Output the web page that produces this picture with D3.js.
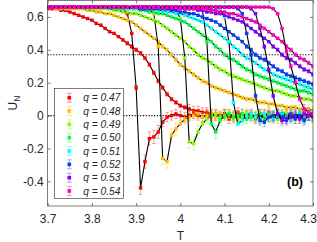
<!DOCTYPE html>
<html lang="en">
<head>
<meta charset="UTF-8">
<title>U_N vs T</title>
<script src="https://cdn.jsdelivr.net/npm/d3@7"></script>
<style>
  body { margin: 0; background: #fff; }
  svg { display: block; font-family: "Liberation Sans", Arial, sans-serif; }
</style>
</head>
<body>
<svg id="chart" width="317" height="242"></svg>
<script>
// temperature grid
const temps = [3.70,3.71,3.72,3.73,3.74,3.75,3.76,3.77,3.78,3.79,
  3.80,3.81,3.82,3.83,3.84,3.85,3.86,3.87,3.88,3.89,
  3.90,3.91,3.92,3.93,3.94,3.95,3.96,3.97,3.98,3.99,
  4.00,4.01,4.02,4.03,4.04,4.05,4.06,4.07,4.08,4.09,
  4.10,4.11,4.12,4.13,4.14,4.15,4.16,4.17,4.18,4.19,
  4.20,4.21,4.22,4.23,4.24,4.25,4.26,4.27,4.28,4.29,
  4.30];

const qLabels = ["0.47","0.48","0.49","0.50","0.51","0.52","0.53","0.54"];
const colors = ["#ff0000","#ffbf00","#80ff00","#00ff40","#00ffff","#0040ff","#8000ff","#ff00bf"];

// broad curves (smaller system)
const small47 = [0.65,0.65,0.65,0.64,0.64,0.63,0.62,0.61,0.60,0.59,
  0.58,0.56,0.55,0.53,0.51,0.50,0.48,0.46,0.44,0.42,
  0.40,0.38,0.35,0.31,0.26,0.21,0.17,0.13,0.10,0.08,
  0.06,0.05,0.04,0.03,0.03,0.02,0.02,0.01,0.01,0.00,
  0.01,0.00,-0.01,0.00,0.01,0.00,0.00,-0.01,0.00,0.01,
  0.00,-0.01,0.00,0.00,0.01,-0.01,0.00,0.00,-0.01,0.00,
  0.00];
const small48 = [0.66,0.66,0.65,0.65,0.65,0.65,0.65,0.65,0.65,0.64,
  0.64,0.63,0.63,0.62,0.62,0.61,0.60,0.59,0.58,0.57,
  0.55,0.53,0.51,0.49,0.47,0.45,0.42,0.40,0.37,0.34,
  0.31,0.29,0.27,0.25,0.23,0.21,0.20,0.18,0.17,0.16,
  0.15,0.14,0.13,0.12,0.11,0.10,0.10,0.09,0.08,0.08,
  0.07,0.07,0.06,0.06,0.05,0.05,0.05,0.04,0.04,0.04,
  0.03];
const small49 = [0.66,0.66,0.66,0.66,0.66,0.66,0.66,0.66,0.65,0.65,
  0.65,0.65,0.65,0.65,0.65,0.64,0.64,0.63,0.63,0.62,
  0.62,0.61,0.60,0.59,0.58,0.57,0.55,0.53,0.51,0.49,
  0.47,0.45,0.42,0.40,0.37,0.35,0.34,0.32,0.30,0.28,
  0.27,0.25,0.24,0.23,0.22,0.21,0.20,0.19,0.18,0.17,
  0.16,0.15,0.15,0.14,0.13,0.12,0.12,0.11,0.10,0.10,
  0.09];
const small50 = [0.66,0.66,0.66,0.66,0.66,0.66,0.66,0.66,0.66,0.66,
  0.66,0.66,0.66,0.66,0.65,0.65,0.65,0.65,0.65,0.65,
  0.65,0.64,0.64,0.63,0.63,0.62,0.62,0.61,0.60,0.59,
  0.58,0.57,0.55,0.53,0.51,0.49,0.47,0.45,0.42,0.40,
  0.37,0.35,0.34,0.32,0.30,0.28,0.27,0.25,0.24,0.23,
  0.22,0.21,0.20,0.19,0.18,0.17,0.16,0.15,0.15,0.14,
  0.13];
const small51 = [0.66,0.66,0.66,0.66,0.66,0.66,0.66,0.66,0.66,0.66,
  0.66,0.66,0.66,0.66,0.66,0.66,0.66,0.66,0.65,0.65,
  0.65,0.65,0.65,0.65,0.65,0.64,0.64,0.63,0.63,0.62,
  0.62,0.61,0.60,0.59,0.58,0.57,0.55,0.53,0.51,0.49,
  0.47,0.45,0.42,0.40,0.37,0.35,0.34,0.32,0.30,0.28,
  0.27,0.25,0.24,0.23,0.22,0.21,0.20,0.19,0.18,0.17,
  0.16];
const small52 = [0.66,0.66,0.66,0.66,0.66,0.66,0.66,0.66,0.66,0.66,
  0.66,0.66,0.66,0.66,0.66,0.66,0.66,0.66,0.66,0.66,
  0.66,0.65,0.65,0.65,0.65,0.65,0.65,0.65,0.64,0.64,
  0.63,0.63,0.62,0.62,0.61,0.60,0.59,0.58,0.57,0.55,
  0.53,0.51,0.49,0.47,0.45,0.42,0.40,0.37,0.35,0.34,
  0.32,0.30,0.28,0.27,0.25,0.24,0.23,0.22,0.21,0.20,
  0.19];
const small53 = [0.66,0.66,0.66,0.66,0.66,0.66,0.66,0.66,0.66,0.66,
  0.66,0.66,0.66,0.66,0.66,0.66,0.66,0.66,0.66,0.66,
  0.66,0.66,0.66,0.66,0.66,0.66,0.66,0.65,0.65,0.65,
  0.65,0.65,0.65,0.65,0.64,0.64,0.63,0.63,0.62,0.62,
  0.61,0.60,0.59,0.58,0.57,0.55,0.53,0.51,0.49,0.47,
  0.45,0.42,0.40,0.37,0.35,0.34,0.32,0.30,0.28,0.27,
  0.25];
const small54 = [0.66,0.66,0.66,0.66,0.66,0.66,0.66,0.66,0.66,0.66,
  0.66,0.66,0.66,0.66,0.66,0.66,0.66,0.66,0.66,0.66,
  0.66,0.66,0.66,0.66,0.66,0.66,0.66,0.66,0.66,0.66,
  0.65,0.65,0.65,0.65,0.65,0.65,0.65,0.64,0.64,0.63,
  0.63,0.62,0.62,0.61,0.60,0.59,0.58,0.57,0.55,0.53,
  0.51,0.49,0.47,0.45,0.42,0.40,0.37,0.35,0.34,0.32,
  0.30];

// sharp curves (larger system)
const large47 = [0.66,0.66,0.66,0.66,0.66,0.66,0.66,0.66,0.66,0.66,
  0.66,0.66,0.66,0.66,0.66,0.66,0.66,0.65,0.62,0.50,
  0.17,-0.44,-0.28,-0.14,-0.13,-0.10,-0.04,-0.01,0.00,0.01,
  0.00,-0.01,0.00,0.01,0.00,-0.01,0.01,0.00,0.00,-0.01,
  0.01,-0.02,0.00,0.02,-0.01,0.00,0.01,-0.02,0.01,0.00,
  0.02,-0.01,0.00,-0.02,0.01,0.00,0.01,-0.01,0.02,0.00,
  -0.01];
const large48 = [0.66,0.66,0.66,0.66,0.66,0.66,0.66,0.66,0.66,0.66,
  0.66,0.66,0.66,0.66,0.66,0.66,0.66,0.66,0.66,0.66,
  0.66,0.66,0.66,0.65,0.62,0.42,-0.26,-0.28,-0.12,-0.08,
  -0.05,-0.02,-0.01,0.00,0.01,-0.01,0.00,0.01,0.00,-0.01,
  0.00,0.01,-0.02,0.00,-0.01,0.02,0.00,-0.01,-0.02,0.00,
  0.01,0.00,-0.02,0.00,0.02,0.00,-0.01,-0.02,0.01,0.00,
  0.00];
const large49 = [0.66,0.66,0.66,0.66,0.66,0.66,0.66,0.66,0.66,0.66,
  0.66,0.66,0.66,0.66,0.66,0.66,0.66,0.66,0.66,0.66,
  0.66,0.66,0.66,0.66,0.66,0.66,0.66,0.66,0.66,0.64,
  0.59,0.35,-0.16,-0.17,-0.10,-0.05,-0.02,0.00,0.01,-0.01,
  0.00,0.01,0.00,-0.02,0.00,0.01,-0.01,0.00,-0.02,0.01,
  0.00,0.00,-0.02,0.00,0.01,-0.01,-0.02,0.00,0.00,0.01,
  -0.01];
const large50 = [0.66,0.66,0.66,0.66,0.66,0.66,0.66,0.66,0.66,0.66,
  0.66,0.66,0.66,0.66,0.66,0.66,0.66,0.66,0.66,0.66,
  0.66,0.66,0.66,0.66,0.66,0.66,0.66,0.66,0.66,0.66,
  0.66,0.66,0.66,0.66,0.66,0.64,0.45,-0.05,-0.10,-0.03,
  0.00,0.01,-0.01,0.00,0.01,-0.02,-0.01,0.00,0.01,-0.02,
  -0.01,0.00,0.01,0.01,-0.02,0.00,0.01,-0.01,-0.02,0.00,
  0.00];
const large51 = [0.66,0.66,0.66,0.66,0.66,0.66,0.66,0.66,0.66,0.66,
  0.66,0.66,0.66,0.66,0.66,0.66,0.66,0.66,0.66,0.66,
  0.66,0.66,0.66,0.66,0.66,0.66,0.66,0.66,0.66,0.66,
  0.66,0.66,0.66,0.66,0.66,0.66,0.66,0.66,0.66,0.65,
  0.60,0.45,0.08,-0.05,-0.03,0.00,0.01,-0.01,-0.02,0.01,
  0.00,-0.02,0.00,0.01,-0.01,-0.02,0.00,0.01,-0.02,0.00,
  0.01];
const large52 = [0.66,0.66,0.66,0.66,0.66,0.66,0.66,0.66,0.66,0.66,
  0.66,0.66,0.66,0.66,0.66,0.66,0.66,0.66,0.66,0.66,
  0.66,0.66,0.66,0.66,0.66,0.66,0.66,0.66,0.66,0.66,
  0.66,0.66,0.66,0.66,0.66,0.66,0.66,0.66,0.66,0.66,
  0.66,0.66,0.66,0.65,0.62,0.50,0.37,0.12,-0.03,-0.04,
  -0.01,0.00,0.01,-0.01,-0.02,0.01,-0.02,0.00,-0.03,0.00,
  0.01];
const large53 = [0.66,0.66,0.66,0.66,0.66,0.66,0.66,0.66,0.66,0.66,
  0.66,0.66,0.66,0.66,0.66,0.66,0.66,0.66,0.66,0.66,
  0.66,0.66,0.66,0.66,0.66,0.66,0.66,0.66,0.66,0.66,
  0.66,0.66,0.66,0.66,0.66,0.66,0.66,0.66,0.66,0.66,
  0.66,0.66,0.66,0.66,0.66,0.66,0.65,0.62,0.53,0.42,
  0.28,0.12,0.01,-0.03,-0.03,-0.01,0.00,-0.02,0.01,0.00,
  -0.01];
const large54 = [0.66,0.66,0.66,0.66,0.66,0.66,0.66,0.66,0.66,0.66,
  0.66,0.66,0.66,0.66,0.66,0.66,0.66,0.66,0.66,0.66,
  0.66,0.66,0.66,0.66,0.66,0.66,0.66,0.66,0.66,0.66,
  0.66,0.66,0.66,0.66,0.66,0.66,0.66,0.66,0.66,0.66,
  0.66,0.66,0.66,0.66,0.66,0.66,0.66,0.66,0.66,0.66,
  0.66,0.65,0.62,0.53,0.39,0.30,0.20,0.10,0.04,0.02,
  0.01];

// error bar half-widths: plateau, transition, near zero, negative dip
const errLevels = [0.005, 0.012, 0.028, 0.04];

const xTicks = [3.7, 3.8, 3.9, 4, 4.1, 4.2, 4.3];
const yTicks = [-0.4, -0.2, 0, 0.2, 0.4, 0.6];
const refLines = [0.37, 0];

const smallSets = [small47, small48, small49, small50, small51, small52, small53, small54];
const largeSets = [large47, large48, large49, large50, large51, large52, large53, large54];

const svg = d3.select("#chart");
const plotLeft = 47.7, plotRight = 313, plotTop = 0.5, plotBottom = 206;
const x = d3.scaleLinear().domain([3.7, 4.3]).range([plotLeft, plotRight]);
const y = d3.scaleLinear().domain([-0.55, 0.7]).range([plotBottom, plotTop]);
const axisColor = "#262626";

svg.append("defs").append("clipPath").attr("id", "clip")
  .append("rect").attr("x", plotLeft).attr("y", plotTop)
  .attr("width", plotRight - plotLeft).attr("height", plotBottom - plotTop);

function errOf(u) {
  if (u < -0.05) return errLevels[3];
  if (Math.abs(u) < 0.05) return errLevels[2];
  if (u < 0.45) return errLevels[1];
  return errLevels[0];
}

const plot = svg.append("g").attr("clip-path", "url(#clip)");

// reference dotted lines
plot.selectAll(".ref").data(refLines).enter().append("line")
  .attr("x1", plotLeft).attr("x2", plotRight)
  .attr("y1", d => y(d)).attr("y2", d => y(d))
  .attr("stroke", "#000").attr("stroke-width", 1.1)
  .attr("stroke-dasharray", "1.2,1.6");

const line = d3.line().x(d => x(d.t)).y(d => y(d.u));

function drawSeries(values, color) {
  const pts = temps.map((t, i) => ({ t: t, u: values[i], e: errOf(values[i]) }));
  const g = plot.append("g");
  g.selectAll(".eb").data(pts).enter().append("path")
    .attr("d", d => {
      const cx = x(d.t), y0 = y(d.u - d.e), y1 = y(d.u + d.e);
      return `M${cx},${y0}V${y1}M${cx - 1.8},${y0}H${cx + 1.8}M${cx - 1.8},${y1}H${cx + 1.8}`;
    })
    .attr("stroke", color).attr("stroke-opacity", 0.45)
    .attr("stroke-width", 0.8).attr("fill", "none");
  g.append("path").datum(pts)
    .attr("d", line).attr("fill", "none")
    .attr("stroke", "#000").attr("stroke-width", 1.1);
  g.selectAll(".mk").data(pts).enter().append("rect")
    .attr("x", d => x(d.t) - 1.7).attr("y", d => y(d.u) - 1.7)
    .attr("width", 3.4).attr("height", 3.4)
    .attr("fill", color);
}

qLabels.forEach((q, s) => {
  drawSeries(smallSets[s], colors[s]);
  drawSeries(largeSets[s], colors[s]);
});

// axes (MATLAB style, ticks inward, box)
const xAxis = svg.append("g").attr("transform", `translate(0,${plotBottom})`)
  .call(d3.axisBottom(x).tickValues(xTicks).tickFormat(d => String(d))
    .tickSizeInner(-3).tickSizeOuter(0).tickPadding(8));
const xTopAxis = svg.append("g").attr("transform", `translate(0,${plotTop})`)
  .call(d3.axisTop(x).tickValues(xTicks).tickFormat("")
    .tickSizeInner(-3).tickSizeOuter(0));
const yAxis = svg.append("g").attr("transform", `translate(${plotLeft},0)`)
  .call(d3.axisLeft(y).tickValues(yTicks).tickFormat(d => String(d))
    .tickSizeInner(-3).tickSizeOuter(0).tickPadding(4));
const yRightAxis = svg.append("g").attr("transform", `translate(${plotRight},0)`)
  .call(d3.axisRight(y).tickValues(yTicks).tickFormat("")
    .tickSizeInner(-3).tickSizeOuter(0));

[xAxis, xTopAxis, yAxis, yRightAxis].forEach(a => {
  a.select(".domain").remove();
  a.selectAll("line").attr("stroke", axisColor).attr("stroke-width", 0.6);
  a.selectAll("text").attr("fill", axisColor)
    .style("font-size", "12px").style("font-family", "'Liberation Sans', Arial, sans-serif");
});

// last x label sits against the right edge of the picture
xAxis.selectAll(".tick text").filter(d => d === 4.3)
  .attr("text-anchor", "end").attr("x", 316.5 - plotRight);

svg.append("rect").attr("x", plotLeft).attr("y", plotTop)
  .attr("width", plotRight - plotLeft).attr("height", plotBottom - plotTop)
  .attr("fill", "none").attr("stroke", axisColor).attr("stroke-width", 0.6);

// axis titles
svg.append("text").attr("x", x(4)).attr("y", 240)
  .attr("text-anchor", "middle").attr("fill", axisColor)
  .style("font-size", "12px").text("T");

const ylab = svg.append("text")
  .attr("transform", "translate(17,103) rotate(-90)")
  .attr("text-anchor", "middle").attr("fill", axisColor)
  .style("font-size", "12px");
ylab.append("tspan").text("U");
ylab.append("tspan").attr("dy", 2.5).style("font-size", "8.5px").text("N");

// panel tag
svg.append("text").attr("x", 287).attr("y", 186)
  .attr("font-weight", "bold").attr("fill", "#000")
  .style("font-size", "12.5px").text("(b)");

// legend
const legend = svg.append("g");
legend.append("rect").attr("x", 54.3).attr("y", 88.3)
  .attr("width", 69).attr("height", 110)
  .attr("fill", "#fff").attr("stroke", axisColor).attr("stroke-width", 0.6);

const rowY = d3.scaleLinear().domain([0, qLabels.length - 1]).range([97.7, 191]);
qLabels.forEach((q, s) => {
  const cy = rowY(s), cx = 69.3;
  legend.append("path")
    .attr("d", `M${cx},${cy - 4.5}V${cy + 4.5}M${cx - 2.5},${cy - 4.5}H${cx + 2.5}M${cx - 2.5},${cy + 4.5}H${cx + 2.5}`)
    .attr("stroke", colors[s]).attr("stroke-opacity", 0.5)
    .attr("stroke-width", 0.8).attr("fill", "none");
  legend.append("rect").attr("x", cx - 1.8).attr("y", cy - 1.8)
    .attr("width", 3.6).attr("height", 3.6).attr("fill", colors[s]);
  legend.append("text").attr("x", 83.3).attr("y", cy + 3.6)
    .attr("fill", axisColor).style("font-size", "10.2px").style("font-style", "italic")
    .text(`q = ${q}`);
});
</script>
</body>
</html>
